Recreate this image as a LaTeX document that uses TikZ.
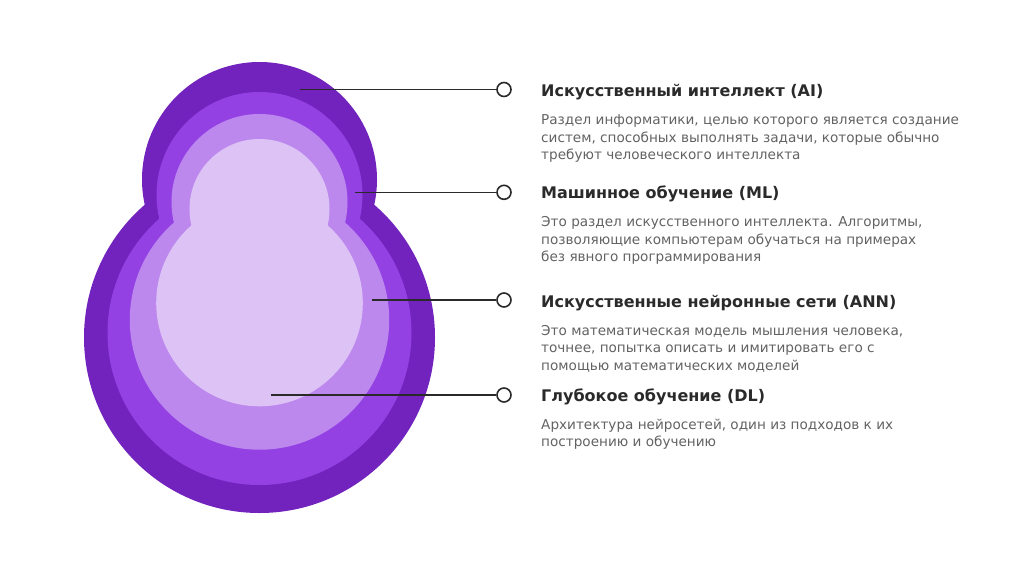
\documentclass[tikz,border=0pt]{standalone}
\usepackage{fontspec}
\setmainfont{DejaVu Sans}
\definecolor{layerAI}{HTML}{7223BD}
\definecolor{layerML}{HTML}{9441E4}
\definecolor{layerANN}{HTML}{BD88EE}
\definecolor{layerDL}{HTML}{DDC3F5}
\definecolor{inkdark}{HTML}{2A2A2A}
\definecolor{inkgrey}{HTML}{626262}
\tikzset{
  dot/.style={circle, draw=inkdark, line width=1.6pt, fill=white, minimum size=14pt, inner sep=0pt},
  lead/.style={draw=inkdark, line width=1.6pt},
  heading/.style={anchor=base west, inner sep=0pt, text=inkdark, font=\fontsize{16}{20}\selectfont\bfseries},
  blurb/.style={anchor=north west, inner sep=0pt, align=left, text=inkgrey, font=\fontsize{13.6}{17.3}\selectfont, execute at begin node=\strut}
}

\begin{document}
\begin{tikzpicture}[x=1pt, y=-1pt]
\useasboundingbox (0,0) rectangle (1024,576);
% nested two-circle shapes, outer first
\foreach \col/\ty/\tr/\by/\br in {layerAI/179.5/117.5/337.5/175.5, layerML/195/103/333/152, layerANN/202/88/320/129.7, layerDL/209/70/303/103.3}
\fill[\col] (259.5,\ty) circle (\tr pt) (259.5,\by) circle (\br pt);

% leader ends inside the shape
\coordinate (aiend) at (300,89.5);
\coordinate (mlend) at (355,192.3);
\coordinate (annend) at (371.5,300);
\coordinate (dlend) at (271,395);

\node[dot] (aidot) at (504,89.5) {};
\node[dot] (mldot) at (504,192.3) {};
\node[dot] (anndot) at (504,300) {};
\node[dot] (dldot) at (504,395) {};

\draw[lead] (aiend) -- (aidot);
\draw[lead] (mlend) -- (mldot);
\draw[lead] (annend) -- (anndot);
\draw[lead] (dlend) -- (dldot);

% blurb tops = first baseline - strut height (12.11)
\node[heading] (aihead) at (541,96.7) {Искусственный интеллект (AI)};
\node[blurb] (aitext) at (541,114.6) {Раздел информатики, целью которого является создание\\систем, способных выполнять задачи, которые обычно\\требуют человеческого интеллекта};

\node[heading] (mlhead) at (541,198.7) {Машинное обучение (ML)};
\node[blurb] (mltext) at (541,216.6) {Это раздел искусственного интеллекта. Алгоритмы,\\позволяющие компьютерам обучаться на примерах\\без явного программирования};

\node[heading] (annhead) at (541,307.7) {Искусственные нейронные сети (ANN)};
\node[blurb] (anntext) at (541,325.2) {Это математическая модель мышления человека,\\точнее, попытка описать и имитировать его с\\помощью математических моделей};

\node[heading] (dlhead) at (541,401.7) {Глубокое обучение (DL)};
\node[blurb] (dltext) at (541,418.9) {Архитектура нейросетей, один из подходов к их\\построению и обучению};
\end{tikzpicture}
\end{document}
